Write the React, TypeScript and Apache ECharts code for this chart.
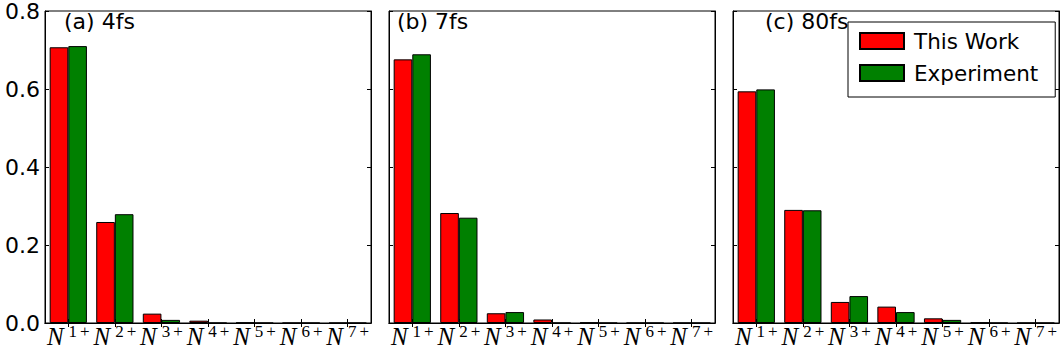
import React, { useEffect, useRef } from "react";
import * as echarts from "echarts";

const categories = ["1+", "2+", "3+", "4+", "5+", "6+", "7+"];
const panelTitles = ["(a) 4fs", "(b) 7fs", "(c) 80fs"];
const work4 = [0.707, 0.259, 0.024, 0.006, 0.001, 0, 0];
const exp4 = [0.71, 0.279, 0.008, 0, 0, 0, 0];
const work7 = [0.676, 0.282, 0.025, 0.009, 0.001, 0, 0];
const exp7 = [0.689, 0.27, 0.028, 0, 0, 0, 0];
const work80 = [0.594, 0.29, 0.054, 0.042, 0.012, 0.001, 0];
const exp80 = [0.599, 0.289, 0.069, 0.028, 0.008, 0, 0];
const yTicks = [0, 0.2, 0.4, 0.6, 0.8];

const workSets = [work4, work7, work80];
const expSets = [exp4, exp7, exp80];

export default function App() {
  const ref = useRef<HTMLDivElement>(null);
  useEffect(() => {
    if (!ref.current) return;
    const chart = echarts.init(ref.current, null, { renderer: "svg" });
    const lefts = [45, 389, 733];
    const W = 326;
    const grids = lefts.map((l) => ({
      left: l,
      top: 11,
      width: W,
      height: 312,
      show: true,
      borderColor: "#000",
      borderWidth: 1,
      backgroundColor: "transparent",
    }));
    const xAxes: any[] = [];
    const yAxes: any[] = [];
    lefts.forEach((_, i) => {
      xAxes.push({
        type: "category",
        gridIndex: i,
        data: categories,
        position: "bottom",
        axisLine: { show: true, lineStyle: { color: "#000", width: 1 } },
        axisTick: { show: true, inside: true, alignWithLabel: true, length: 4, lineStyle: { color: "#000" } },
        axisLabel: {
          margin: 0,
          interval: 0,
          formatter: (v: string) => `{n|N}{s|${v[0]}}{p|${v[1]}}`,
          rich: {
            n: { fontFamily: "Liberation Serif", fontStyle: "italic", fontSize: 25, color: "#000", lineHeight: 26, verticalAlign: "bottom" },
            s: { fontFamily: "Liberation Serif", fontSize: 17, color: "#000", lineHeight: 9, verticalAlign: "top", padding: [0, 0, 0, 5] },
            p: { fontFamily: "Liberation Serif", fontSize: 17, color: "#000", lineHeight: 9, verticalAlign: "top", padding: [0, 0, 0, 3] },
          },
        },
        splitLine: { show: false },
      });
      xAxes.push({
        type: "category",
        gridIndex: i,
        data: categories,
        position: "top",
        axisLine: { show: true, lineStyle: { color: "#000", width: 1 } },
        axisTick: { show: true, inside: true, alignWithLabel: true, length: 4, lineStyle: { color: "#000" } },
        axisLabel: { show: false },
        splitLine: { show: false },
      });
      yAxes.push({
        type: "value",
        gridIndex: i,
        min: 0,
        max: 0.8,
        interval: 0.2,
        position: "left",
        axisLine: { show: true, lineStyle: { color: "#000", width: 1 } },
        axisTick: { show: true, inside: true, length: 4, lineStyle: { color: "#000" } },
        axisLabel: {
          show: i === 0,
          margin: 5,
          fontFamily: "DejaVu Sans",
          fontSize: 22,
          lineHeight: 20,
          color: "#000",
          formatter: (v: number) => (yTicks.includes(Math.round(v * 10) / 10) ? v.toFixed(1) : ""),
        },
        splitLine: { show: false },
      });
      yAxes.push({
        type: "value",
        gridIndex: i,
        min: 0,
        max: 0.8,
        interval: 0.2,
        position: "right",
        axisLine: { show: true, lineStyle: { color: "#000", width: 1 } },
        axisTick: { show: true, inside: true, length: 4, lineStyle: { color: "#000" } },
        axisLabel: { show: false },
        splitLine: { show: false },
      });
    });
    const series: any[] = [];
    lefts.forEach((_, i) => {
      series.push({
        type: "bar",
        name: "This Work",
        xAxisIndex: i * 2,
        yAxisIndex: i * 2,
        data: workSets[i],
        barWidth: "40%",
        barGap: "0%",
        itemStyle: { color: "#ff0000", borderColor: "#000", borderWidth: 1 },
      });
      series.push({
        type: "bar",
        name: "Experiment",
        xAxisIndex: i * 2,
        yAxisIndex: i * 2,
        data: expSets[i],
        barWidth: "40%",
        barGap: "0%",
        itemStyle: { color: "#008000", borderColor: "#000", borderWidth: 1 },
      });
    });
    chart.setOption({
      animation: false,
      backgroundColor: "#fff",
      grid: grids,
      xAxis: xAxes,
      yAxis: yAxes,
      series,
      title: panelTitles.map((t, i) => ({
        text: t,
        left: [64, 397, 765][i],
        top: 10,
        padding: 0,
        textStyle: { fontFamily: "DejaVu Sans", fontSize: 22, fontWeight: "normal", color: "#000" },
      })),
      legend: {
        data: ["This Work", "Experiment"],
        orient: "vertical",
        left: 848,
        top: 22,
        padding: [8, 17, 13, 11],
        itemWidth: 44,
        itemHeight: 16,
        itemGap: 10,
        backgroundColor: "#fff",
        borderColor: "#000",
        borderWidth: 1,
        icon: "rect",
        textStyle: { fontFamily: "DejaVu Sans", fontSize: 21.5, color: "#000", padding: [0, 0, 0, 5] },
      },
    });
    return () => chart.dispose();
  }, []);
  return <div ref={ref} style={{ position: "fixed", left: 0, top: 0, width: 1063, height: 358 }} />;
}
